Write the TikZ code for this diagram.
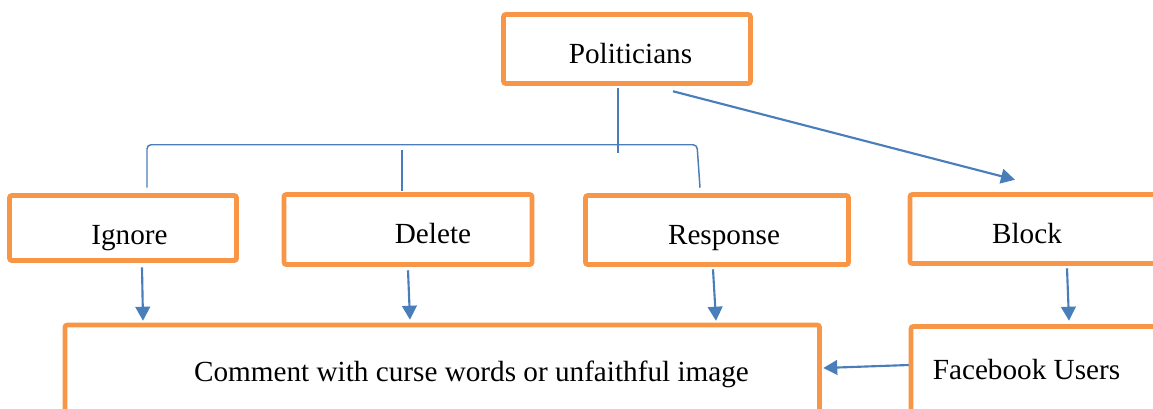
\documentclass[tikz,border=0pt]{standalone}
\usepackage{fontspec}
\setmainfont{Liberation Serif}
\usetikzlibrary{calc,arrows.meta}
\definecolor{boxorange}{HTML}{F79646}
\definecolor{lineblue}{HTML}{4A7EBB}
\tikzset{
  box/.style={draw=boxorange, line width=3.4pt, rounded corners=1.5pt, inner sep=0pt, fill=white},
  lbl/.style={anchor=base, inner sep=0pt, font=\fontsize{21.9}{26}\selectfont},
  arr/.style={draw=lineblue, line width=1.6pt, -{Triangle[length=10.5pt,width=11pt]}},
  tree/.style={draw=lineblue, line width=1.1pt, rounded corners=3pt},
}
\begin{document}
\begin{tikzpicture}[x=0.75pt,y=-0.75pt]
\useasboundingbox (0,0) rectangle (1153,408);
% boxes
\node[box, minimum width=185.25pt, minimum height=51.75pt] (pol) at (627,49) {};
\node[box, minimum width=170.25pt, minimum height=48.75pt] (ign) at (123,228) {};
\node[box, minimum width=186pt, minimum height=52.5pt] (del) at (408,229.5) {};
\node[box, minimum width=197.25pt, minimum height=51.75pt] (res) at (717,230) {};
\node[box, minimum width=202.5pt, minimum height=51.75pt] (blk) at (1045,229) {};
\node[box, minimum width=565.875pt, minimum height=86.25pt] (cmt) at (442.25,382.5) {};
\node[box, minimum width=201.75pt, minimum height=85.125pt] (fb) at (1045.5,383.25) {};
% texts
\node[lbl] (tpol) at (630.5,63) {Politicians};
\node[lbl] (tign) at (129.5,244) {Ignore};
\node[lbl] (tdel) at (433,243.5) {Delete};
\node[lbl] (tres) at (724,244) {Response};
\node[lbl] (tblk) at (1027,243) {Block};
\node[lbl] (tcmt) at (471.5,381) {Comment with curse words or unfaithful image};
\node[lbl] (tfb) at (1026.5,379) {Facebook Users};
% tree connectors
\draw[tree] ($(pol.south)+(-9,2.5)$) -- ($(pol.south)+(-9,67.5)$);
\draw[tree] ($(ign.north)+(24,-5.5)$) -- ($(ign.north)+(24,-48.5)$) -- ($(res.north)+(-20,-48.5)$) -- ($(res.north)+(-17,-5.5)$);
\draw[tree] ($(del.north)+(-6,-42.5)$) -- ($(del.north)+(-6,-1.5)$);
% arrows
\draw[arr] ($(ign.south)+(19,4.5)$) -- ($(cmt.north)+(-299.25,-2)$);
\draw[arr] ($(del.south)+(0,3.5)$) -- ($(cmt.north)+(-32.25,-3)$);
\draw[arr] ($(res.south)+(-4,2.5)$) -- ($(cmt.north)+(273.75,-2)$);
\draw[arr] ($(pol.south)+(46,5.5)$) -- ($(blk.north)+(-30,-12.5)$);
\draw[arr] ($(blk.south)+(22,2.5)$) -- ($(fb.north)+(23.5,-3.5)$);
\draw[arr] ($(fb.west)+(0,-18.25)$) -- ($(cmt.east)+(1.5,-14.5)$);
\end{tikzpicture}
\end{document}
